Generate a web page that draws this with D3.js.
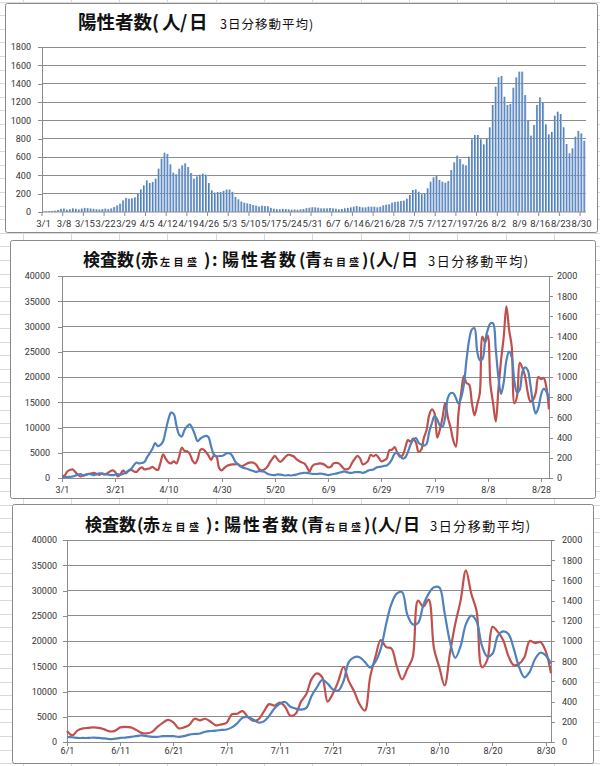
<!DOCTYPE html>
<meta charset="utf-8">
<script src="https://d3js.org/d3.v7.js"></script>
<style>
    body { margin: 0; background: #fff; }
    .tick text { font-family: Roboto, "Noto Sans", sans-serif; font-size: 9px; fill: #333; }
    .ttl { font-family: "Noto Sans CJK JP", sans-serif; fill: #111; }
</style>
<svg id="sheet" width="600" height="766"></svg>
<script>
    // positives per day, 3/1 - 8/31 (3-day moving average)
    var positives = [
        5, 8, 10, 12, 15, 22, 35, 38, 25, 30, 40, 35, 28, 38, 45, 42, 38, 35, 30, 28, 32, 38, 32, 40, 55, 73, 91, 127, 153, 145, 149,
        160, 207, 247, 290, 345, 316, 327, 364, 473, 582, 647, 633, 520, 429, 411, 473, 509, 531, 491, 425, 364, 389, 407, 418, 407, 316, 236, 211, 218, 218,
        230, 245, 245, 220, 165, 138, 115, 102, 95, 87, 76, 69, 60, 69, 65, 62, 45, 35, 30, 29, 35, 33, 29, 25, 29, 25, 29, 33, 42, 47, 52,
        51, 47, 40, 40, 40, 44, 40, 36, 29, 33, 40, 44, 51, 58, 65, 58, 51, 51, 58, 58, 58, 51, 58, 73, 80, 84, 102, 109, 113, 120,
        124, 145, 185, 240, 247, 222, 193, 204, 258, 331, 378, 396, 349, 331, 320, 338, 458, 542, 615, 578, 520, 509, 604, 793, 840, 840, 793, 738, 796, 924, 1167,
        1367, 1469, 1484, 1258, 1167, 1178, 1356, 1469, 1531, 1531, 1276, 993, 833, 949, 1167, 1251, 1196, 956, 847, 873, 1051, 1095, 1069, 924, 742, 640, 695, 822, 884, 858, 778
    ];
    // tests per day, 3/1 - 8/31
    var tests = [
        300, 500, 1300, 1600, 1700, 1200, 600, 300, 500, 700, 800, 900, 1000, 800, 600, 900, 700, 900, 1300, 1500, 1200, 300, 800, 1500, 900, 1400, 1600, 1300, 1200, 1800, 2100,
        1700, 1800, 1900, 2200, 1800, 1600, 3000, 4700, 3800, 3100, 2900, 3300, 2900, 4200, 6000, 5400, 5300, 4800, 3500, 2900, 3800, 5600, 5700, 5200, 4500, 3600, 4400, 4300, 2000, 1500,
        2000, 2400, 2600, 2700, 2700, 2800, 2400, 2400, 2700, 3000, 3100, 3000, 2600, 1800, 1500, 1700, 2100, 3000, 3800, 4400, 3700, 3200, 3600, 4200, 4600, 4500, 4300, 3800, 3400, 3100, 2900,
        2200, 1300, 2300, 2700, 2800, 2900, 2800, 2500, 2100, 2200, 2900, 3000, 2900, 2400, 1800, 1700, 2000, 3000, 3800, 4400, 3900, 2700, 2900, 3400, 4600, 4300, 4600, 4000, 3300, 3500,
        3800, 5500, 5600, 6100, 5000, 4200, 4500, 6000, 7500, 7200, 7800, 7000, 5200, 5600, 8000, 9500, 12500, 13600, 12800, 8000, 9600, 12000, 14900, 12000, 10000, 7500, 6200, 12900, 16900, 20200, 18800,
        18500, 15000, 12400, 14500, 16800, 28000, 26800, 28200, 18500, 14800, 11200, 17600, 23400, 28000, 34000, 29400, 26000, 14800, 16200, 22800, 21800, 20200, 17000, 15200, 15500, 16800, 20000, 19600, 19800, 18000, 13600
    ];
    var barTicks = ["3/1", "3/8", "3/15", "3/22", "3/29", "4/5", "4/12", "4/19", "4/26", "5/3", "5/10", "5/17", "5/24", "5/31",
        "6/7", "6/14", "6/21", "6/28", "7/5", "7/12", "7/19", "7/26", "8/2", "8/9", "8/16", "8/23", "8/30"];
    var midTicks = ["3/1", "3/21", "4/10", "4/30", "5/20", "6/9", "6/29", "7/19", "8/8", "8/28"];
    var lowTicks = ["6/1", "6/11", "6/21", "7/1", "7/11", "7/21", "7/31", "8/10", "8/20", "8/30"];

    var days = d3.timeDay.range(new Date(2020, 2, 1), new Date(2020, 8, 1));
    var labels = days.map(d3.timeFormat("%-m/%-d"));
    var idx = function (list) { return list.map(function (l) { return labels.indexOf(l); }); };

    var svg = d3.select("#sheet");
    var blue = "#4f81bd", red = "#c0504d", gridCol = "#8c8c8c";
    var plain = d3.format("d");

    // worksheet cells behind the charts
    var cells = svg.append("g").attr("stroke", "#dadada").attr("shape-rendering", "crispEdges");
    d3.range(23, 600, 48.3).forEach(function (x) {
        cells.append("line").attr("x1", x).attr("x2", x).attr("y1", 0).attr("y2", 766);
    });
    d3.range(2, 766, 13.6).forEach(function (y) {
        cells.append("line").attr("x1", 0).attr("x2", 600).attr("y1", y).attr("y2", y);
    });

    var grad = svg.append("defs").append("linearGradient").attr("id", "barGrad")
        .attr("x1", 0).attr("x2", 1).attr("y1", 0).attr("y2", 0);
    grad.append("stop").attr("offset", "0%").attr("stop-color", "#3c6cae");
    grad.append("stop").attr("offset", "55%").attr("stop-color", "#6a94c9");
    grad.append("stop").attr("offset", "100%").attr("stop-color", "#bcd0e8");

    function frame(x, y, w, h) {
        svg.append("rect").attr("x", x + 0.5).attr("y", y + 0.5).attr("width", w).attr("height", h)
            .attr("rx", 2).attr("fill", "#fff").attr("stroke", "#8a8a8a");
    }

    function styleAxis(g) {
        g.selectAll("path, line").attr("stroke", gridCol).attr("shape-rendering", "crispEdges");
    }

    // title pieces: [text, x offset, font size, bold, letter spacing]
    function title(x0, y0, parts) {
        var t = svg.append("text").attr("class", "ttl").attr("y", y0);
        parts.forEach(function (p) {
            t.append("tspan").attr("x", x0 + p[1]).attr("font-size", p[2])
                .attr("font-weight", p[3] ? 700 : 400)
                .attr("letter-spacing", p[4] || 0).text(p[0]);
        });
    }

    // ---- chart 1 : bars ----
    frame(5, 3, 592, 229);
    title(78, 29, [
        ["陽性者数", 0, 18.5, true], ["(", 74, 18.5, true], ["人", 84, 18.5, true],
        ["/", 102, 18.5, true], ["日", 111, 18.5, true],
        ["3日分移動平均)", 142, 12.5, false, 1]
    ]);
    var xb = d3.scaleBand().domain(d3.range(positives.length)).range([42, 586])
        .paddingInner(0.3).paddingOuter(0.15);
    var yb = d3.scaleLinear().domain([0, 1800]).range([212, 47]);
    var g1 = svg.append("g");
    g1.selectAll(".grid").data(yb.ticks(9).slice(1)).join("line")
        .attr("x1", 42).attr("x2", 586).attr("y1", yb).attr("y2", yb)
        .attr("stroke", gridCol).attr("shape-rendering", "crispEdges");
    g1.selectAll(".bar").data(positives).join("rect")
        .attr("x", function (d, i) { return xb(i); })
        .attr("width", xb.bandwidth())
        .attr("y", function (d) { return yb(d); })
        .attr("height", function (d) { return yb(0) - yb(d); })
        .attr("fill", "url(#barGrad)");
    g1.append("g").attr("transform", "translate(42,0)")
        .call(d3.axisLeft(yb).tickValues(d3.range(0, 1801, 200)).tickFormat(plain)
            .tickSize(4).tickPadding(7).tickSizeOuter(0))
        .call(styleAxis);
    var half = xb.step() * xb.paddingInner() / 2;
    var bx = svg.append("g").attr("transform", "translate(0," + yb(0) + ")");
    bx.append("line").attr("x1", 42).attr("x2", 586).attr("stroke", gridCol);
    bx.selectAll(".tk").data(idx(barTicks)).join("line")
        .attr("x1", function (i) { return xb(i) - half; }).attr("x2", function (i) { return xb(i) - half; })
        .attr("y2", 4).attr("stroke", gridCol);
    bx.selectAll(".lb").data(idx(barTicks)).join("text")
        .attr("x", function (i) { return xb(i) + xb.bandwidth() / 2; })
        .attr("y", 15).attr("text-anchor", "middle")
        .style("font-family", "Roboto, sans-serif").style("font-size", "9.5px").style("fill", "#333")
        .text(function (i) { return labels[i]; });

    // ---- charts 2 and 3 : tests (red, left) and positives (blue, right) ----
    function dual(c) {
        frame(c.fx, c.fy, c.fw, c.fh);
        title(c.tx, c.ty, [
            ["検査数", 0, 17, true], ["(", 52, 17, true], ["赤", 58, 17, true],
            ["左目盛", 77, 10, true, 3.5],
            [")", 121, 17, true], [":", 129, 17, true],
            ["陽性者数", 139, 17, true, 2], ["(", 216, 17, true], ["青", 222, 17, true],
            ["右目盛", 240, 10, true, 3],
            [")", 279, 17, true], ["(", 286, 17, true], ["人", 293, 17, true],
            ["/", 310, 17, true], ["日", 318, 17, true],
            ["3日分移動平均)", 345, 13, false, 1.5]
        ]);
        var x = d3.scaleLinear().domain([c.first, days.length - 1]).range([c.left, c.right]);
        var yl = d3.scaleLinear().domain([0, 40000]).range([c.bottom, c.top]);
        var yr = d3.scaleLinear().domain([0, 2000]).range([c.bottom, c.top]);
        var g = svg.append("g");
        g.selectAll(".grid").data(d3.range(5000, 40001, 5000)).join("line")
            .attr("x1", c.left).attr("x2", c.right).attr("y1", yl).attr("y2", yl)
            .attr("stroke", gridCol).attr("shape-rendering", "crispEdges");
        g.append("g").attr("transform", "translate(" + c.left + ",0)")
            .call(d3.axisLeft(yl).tickValues(d3.range(0, 40001, 5000)).tickFormat(plain)
                .tickSize(4).tickPadding(c.lp).tickSizeOuter(0))
            .call(styleAxis);
        g.append("g").attr("transform", "translate(" + c.right + ",0)")
            .call(d3.axisRight(yr).tickValues(d3.range(0, 2001, 200)).tickFormat(plain)
                .tickSize(4).tickPadding(c.rp).tickSizeOuter(0))
            .call(styleAxis);
        g.append("g").attr("transform", "translate(0," + c.bottom + ")")
            .call(d3.axisBottom(x).tickValues(idx(c.ticks)).tickFormat(function (i) { return labels[i]; })
                .tickSize(4).tickPadding(c.bp).tickSizeOuter(0))
            .call(styleAxis);
        var pts = function (arr) {
            return arr.slice(c.first).map(function (v, k) { return { i: c.first + k, v: v }; });
        };
        g.append("path").datum(pts(tests))
            .attr("fill", "none").attr("stroke", red).attr("stroke-width", 2.2)
            .attr("d", d3.line().x(function (d) { return x(d.i); }).y(function (d) { return yl(d.v); })
                .curve(d3.curveCatmullRom));
        g.append("path").datum(pts(positives))
            .attr("fill", "none").attr("stroke", blue).attr("stroke-width", 2.2)
            .attr("d", d3.line().x(function (d) { return x(d.i); }).y(function (d) { return yr(d.v); })
                .curve(d3.curveCatmullRom));
    }

    dual({ fx: 10, fy: 240, fw: 585, fh: 258, tx: 83, ty: 266, first: 0, ticks: midTicks,
        left: 62, right: 549, top: 276, bottom: 478, lp: 8, rp: 4, bp: 5 });
    dual({ fx: 12, fy: 504, fw: 581, fh: 259, tx: 85, ty: 531, first: labels.indexOf("6/1"), ticks: lowTicks,
        left: 67, right: 551, top: 540, bottom: 742, lp: 6, rp: 7, bp: 2 });
</script>
